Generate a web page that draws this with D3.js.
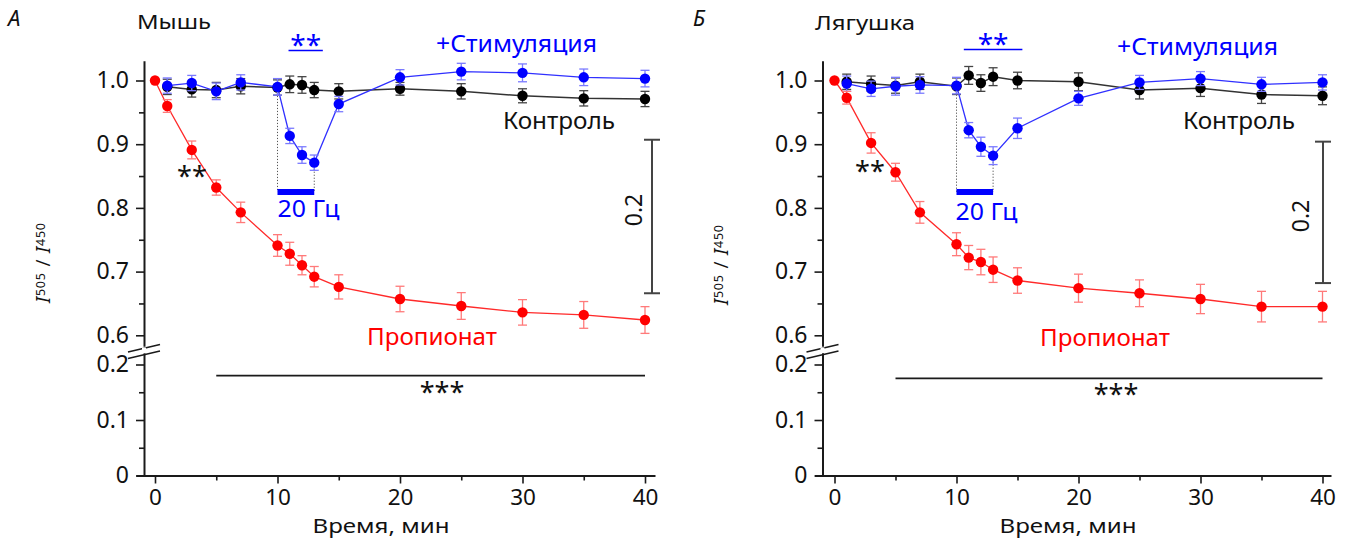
<!DOCTYPE html>
<html><head><meta charset="utf-8">
<script src="https://cdn.jsdelivr.net/npm/d3@7"></script>
<style>
body{margin:0;background:#fff}
svg{display:block}
text{font-family:"Noto Sans",sans-serif}
</style>
</head><body>
<svg id="chart" width="1349" height="539"></svg>
<script>
// ---------------- DATA ----------------
const timeProp = [0,1,3,5,7,10,11,12,13,15,20,25,30,35,40];
const timeCtrl = [1,3,5,7,10,11,12,13,15,20,25,30,35,40];

const mouseProp    = [1.000,0.960,0.891,0.832,0.793,0.741,0.728,0.710,0.692,0.676,0.657,0.646,0.636,0.632,0.624];
const mousePropErr = [0,0.010,0.014,0.012,0.016,0.017,0.018,0.015,0.016,0.019,0.020,0.021,0.020,0.021,0.021];
const mouseCtrl    = [0.990,0.986,0.985,0.991,0.989,0.994,0.993,0.985,0.983,0.987,0.983,0.976,0.972,0.971];
const mouseCtrlErr = [0.012,0.012,0.012,0.012,0.012,0.013,0.013,0.012,0.012,0.010,0.012,0.011,0.012,0.012];
const mouseStim    = [0.992,0.996,0.983,0.997,0.990,0.913,0.883,0.871,0.963,1.005,1.014,1.012,1.005,1.003];
const mouseStimErr = [0.012,0.012,0.013,0.012,0.013,0.012,0.013,0.012,0.012,0.012,0.013,0.014,0.013,0.013];

const frogProp    = [1.000,0.973,0.902,0.856,0.793,0.743,0.722,0.715,0.703,0.686,0.674,0.666,0.657,0.645,0.645];
const frogPropErr = [0,0.010,0.016,0.014,0.017,0.018,0.019,0.020,0.020,0.020,0.022,0.021,0.023,0.024,0.024];
const frogCtrl    = [0.998,0.995,0.992,0.998,0.991,1.008,0.996,1.006,1.000,0.998,0.985,0.988,0.978,0.976];
const frogCtrlErr = [0.012,0.012,0.012,0.012,0.013,0.014,0.013,0.014,0.013,0.014,0.014,0.013,0.014,0.014];
const frogStim    = [0.995,0.987,0.991,0.993,0.992,0.922,0.896,0.882,0.925,0.972,0.997,1.003,0.994,0.997];
const frogStimErr = [0.012,0.012,0.014,0.013,0.013,0.012,0.015,0.014,0.016,0.011,0.011,0.011,0.011,0.012];

const xTicks      = [0,10,20,30,40];
const xMinorTicks = [5,15,25,35];
const yUpperTicks = [0.6,0.7,0.8,0.9,1.0];
const yUpperMinor = [0.65,0.75,0.85,0.95];
const yLowerTicks = [0,0.1,0.2];
const yLowerMinor = [0.05,0.15];

const stimWindow = [10,13];
const stimBarLevel = 0.825;
const mouseStimSig = [10.9,13.7];
const frogStimSig  = [10.6,15.4];
const mouseSigLine = [5,40,0.180];
const frogSigLine  = [5,40,0.175];
const mouseScaleBar = [0.907,0.666];
const frogScaleBar  = [0.904,0.682];

const panelLetters = ["А","Б"];
const speciesNames = ["Мышь","Лягушка"];
const labelStim = "+Стимуляция";
const labelCtrl = "Контроль";
const labelProp = "Пропионат";
const labelFreq = "20 Гц";
const labelX = "Время, мин";
const labelScale = "0.2";

// ---------------- LAYOUT ----------------
const layouts = [
  {yAxisX:144, x0:155, x40:645, xEnd:655, letterX:8, speciesX:137, speciesY:29, speciesW:74,
   stimX:436, stimY:52, ctrlX:503, ctrlY:129, propX:367, propY:345, freqX:277.5, freqY:217,
   scaleX:652, scaleLabX:642, scaleLabY:210, xLabX:381, yLabX:50, yLabY:263,
   blueSigY:50.5, blackSig:[192,171], tripleY:387, tripleX:442},
  {yAxisX:822.5, x0:834.5, x40:1322.5, xEnd:1331, letterX:693, speciesX:815, speciesY:30, speciesW:100,
   stimX:1117, stimY:55, ctrlX:1183, ctrlY:129, propX:1040, propY:346, freqX:955.5, freqY:220,
   scaleX:1323, scaleLabX:1309, scaleLabY:216, xLabX:1068, yLabX:728, yLabY:265,
   blueSigY:49.5, blackSig:[870,166], tripleY:389, tripleX:1116}
];

const panelData = [
  {prop:mouseProp, propErr:mousePropErr, ctrl:mouseCtrl, ctrlErr:mouseCtrlErr, stim:mouseStim, stimErr:mouseStimErr,
   stimSig:mouseStimSig, sigLine:mouseSigLine, scaleBar:mouseScaleBar},
  {prop:frogProp, propErr:frogPropErr, ctrl:frogCtrl, ctrlErr:frogCtrlErr, stim:frogStim, stimErr:frogStimErr,
   stimSig:frogStimSig, sigLine:frogSigLine, scaleBar:frogScaleBar}
];

const RED="#ff0000", RED_L="#ff2a2a", RED_E="#ff7a7a";
const BLUE="#0000ff", BLUE_L="#3030ff", BLUE_E="#7a7aff";
const BLK="#000000", BLK_L="#333333", BLK_E="#444444";
const AX="#1a1a1a";

const svg = d3.select("#chart");

function drawPanel(i){
  const L = layouts[i], D = panelData[i];
  const g = svg.append("g");

  const x = d3.scaleLinear().domain([0,40]).range([L.x0, L.x40]);
  const yU = d3.scaleLinear().domain([0.6,1.0]).range([335.3,80.5]);
  const yL = d3.scaleLinear().domain([0,0.2]).range([475.5,364.5]);

  const xLeft = L.yAxisX - 8;
  const xA = x.copy().domain([x.invert(xLeft), x.invert(L.xEnd)]).range([xLeft, L.xEnd]);
  const yUA = yU.copy().domain([0.583, 1.031]).range([yU(0.583), yU(1.031)]);
  const yLA = yL.copy().domain([0, 0.221]).range([yL(0), yL(0.221)]);

  // X axis
  const xg = g.append("g").attr("transform",`translate(0,${yL(0)})`)
    .call(d3.axisBottom(xA).tickValues(xTicks).tickSize(8).tickPadding(6).tickSizeOuter(0).tickFormat(d3.format("d")));
  g.append("g").attr("transform",`translate(0,${yL(0)})`)
    .call(d3.axisBottom(xA).tickValues(xMinorTicks).tickSize(5).tickSizeOuter(0).tickFormat(""))
    .select(".domain").remove();

  // Y axes
  g.append("g").attr("transform",`translate(${L.yAxisX},0)`)
    .call(d3.axisLeft(yUA).tickValues(yUpperTicks).tickSize(8).tickPadding(7).tickSizeOuter(0).tickFormat(d3.format(".1f")));
  g.append("g").attr("transform",`translate(${L.yAxisX},0)`)
    .call(d3.axisLeft(yUA).tickValues(yUpperMinor).tickSize(5).tickSizeOuter(0).tickFormat(""))
    .select(".domain").remove();
  g.append("g").attr("transform",`translate(${L.yAxisX},0)`)
    .call(d3.axisLeft(yLA).tickValues(yLowerTicks).tickSize(8).tickPadding(7).tickSizeOuter(0)
    .tickFormat(d => d===0 ? "0" : d3.format(".1f")(d)));
  g.append("g").attr("transform",`translate(${L.yAxisX},0)`)
    .call(d3.axisLeft(yLA).tickValues(yLowerMinor).tickSize(5).tickSizeOuter(0).tickFormat(""))
    .select(".domain").remove();

  g.selectAll(".domain").attr("stroke",AX).attr("stroke-width",2);
  g.selectAll(".tick line").attr("stroke",AX).attr("stroke-width",1.6);
  g.selectAll(".tick text").attr("fill","#111").style("font-size","23px").style("font-family","'Noto Sans',sans-serif");
  xg.selectAll(".tick text").style("font-size","22.5px");

  // axis break marks
  const bx = L.yAxisX;
  const bk = g.append("g").attr("stroke",AX).attr("stroke-width",1.5);
  bk.append("line").attr("x1",bx-16).attr("y1",352).attr("x2",bx+16).attr("y2",344.5);
  bk.append("line").attr("x1",bx-16).attr("y1",358.5).attr("x2",bx+16).attr("y2",351);
  g.append("rect").attr("x",bx-2).attr("y",347.5).attr("width",4).attr("height",3.5).attr("fill","#fff");

  const lineGen = (ts) => d3.line().x((d,k)=>x(ts[k])).y(d=>yU(d));

  function series(ts, vals, errs, col, lcol, ecol, lw){
    const sg = g.append("g");
    sg.append("path").datum(vals).attr("d", lineGen(ts)).attr("fill","none").attr("stroke",lcol).attr("stroke-width",lw);
    const eb = sg.append("g").attr("stroke",ecol).attr("stroke-width",1.3);
    vals.forEach((v,k)=>{
      const e = errs[k]; if(!e) return;
      const cx = x(ts[k]);
      eb.append("line").attr("x1",cx).attr("x2",cx).attr("y1",yU(v-e)).attr("y2",yU(v+e));
      eb.append("line").attr("x1",cx-4.5).attr("x2",cx+4.5).attr("y1",yU(v-e)).attr("y2",yU(v-e));
      eb.append("line").attr("x1",cx-4.5).attr("x2",cx+4.5).attr("y1",yU(v+e)).attr("y2",yU(v+e));
    });
    sg.selectAll("circle").data(vals).join("circle")
      .attr("cx",(d,k)=>x(ts[k])).attr("cy",d=>yU(d)).attr("r",5.2).attr("fill",col);
  }

  // stimulation dotted lines and bar
  const k10 = timeCtrl.indexOf(stimWindow[0]), k13 = timeCtrl.indexOf(stimWindow[1]);
  [[stimWindow[0], D.stim[k10]],[stimWindow[1], D.stim[k13]]].forEach(([t,v])=>{
    g.append("line").attr("x1",x(t)).attr("x2",x(t)).attr("y1",yU(v)).attr("y2",yU(stimBarLevel))
      .attr("stroke","#555").attr("stroke-width",1).attr("stroke-dasharray","1.2,1.8");
  });
  g.append("line").attr("x1",x(stimWindow[0])).attr("x2",x(stimWindow[1]))
    .attr("y1",yU(stimBarLevel)).attr("y2",yU(stimBarLevel)).attr("stroke",BLUE).attr("stroke-width",6);

  series(timeCtrl, D.ctrl, D.ctrlErr, BLK, BLK_L, BLK_E, 1.5);
  series(timeCtrl, D.stim, D.stimErr, BLUE, BLUE_L, BLUE_E, 1.3);
  series(timeProp, D.prop, D.propErr, RED, RED_L, RED_E, 1.3);

  // scale bar
  const sb = g.append("g").attr("stroke","#444").attr("stroke-width",2);
  sb.append("line").attr("x1",L.scaleX).attr("x2",L.scaleX).attr("y1",yU(D.scaleBar[0])).attr("y2",yU(D.scaleBar[1]));
  [0,1].forEach(j=>sb.append("line").attr("x1",L.scaleX-8).attr("x2",L.scaleX+8)
     .attr("y1",yU(D.scaleBar[j])).attr("y2",yU(D.scaleBar[j])));
  g.append("text").attr("transform",`translate(${L.scaleLabX},${L.scaleLabY}) rotate(-90)`)
    .attr("text-anchor","middle").style("font-size","23px").attr("fill","#111").text(labelScale);

  // significance line (lower segment)
  g.append("line").attr("x1",x(D.sigLine[0])).attr("x2",x(D.sigLine[1]))
    .attr("y1",yL(D.sigLine[2])).attr("y2",yL(D.sigLine[2])).attr("stroke",AX).attr("stroke-width",1.8);
  g.append("text").attr("x",L.tripleX).attr("y",L.tripleY+15).attr("text-anchor","middle")
    .style("font-size","27px").attr("fill","#111").text("***");

  // blue ** with underline
  g.append("line").attr("x1",x(D.stimSig[0])).attr("x2",x(D.stimSig[1]))
    .attr("y1",L.blueSigY).attr("y2",L.blueSigY).attr("stroke",BLUE).attr("stroke-width",1.6);
  g.append("text").attr("x",(x(D.stimSig[0])+x(D.stimSig[1]))/2).attr("y",L.blueSigY+4).attr("text-anchor","middle")
    .style("font-size","28px").attr("fill",BLUE).text("**");
  // black **
  g.append("text").attr("x",L.blackSig[0]).attr("y",L.blackSig[1]+15).attr("text-anchor","middle")
    .style("font-size","27px").attr("fill","#111").text("**");

  // labels
  g.append("text").attr("x",L.letterX).attr("y",26).style("font-size","22px").style("font-style","italic")
    .attr("fill","#111").text(panelLetters[i]);
  g.append("text").attr("x",L.speciesX).attr("y",L.speciesY).style("font-size","20px").attr("fill","#111")
    .attr("textLength",L.speciesW).attr("lengthAdjust","spacingAndGlyphs").text(speciesNames[i]);
  g.append("text").attr("x",L.stimX).attr("y",L.stimY).style("font-size","23px").attr("fill",BLUE)
    .attr("textLength",161).attr("lengthAdjust","spacingAndGlyphs").text(labelStim);
  g.append("text").attr("x",L.ctrlX).attr("y",L.ctrlY).style("font-size","23px").attr("fill","#111")
    .attr("textLength",112).attr("lengthAdjust","spacingAndGlyphs").text(labelCtrl);
  g.append("text").attr("x",L.propX).attr("y",L.propY).style("font-size","23px").attr("fill",RED)
    .attr("textLength",130).attr("lengthAdjust","spacingAndGlyphs").text(labelProp);
  g.append("text").attr("x",L.freqX).attr("y",L.freqY).style("font-size","23px").attr("fill",BLUE)
    .attr("textLength",62).attr("lengthAdjust","spacingAndGlyphs").text(labelFreq);
  g.append("text").attr("x",L.xLabX).attr("y",533).attr("text-anchor","middle").style("font-size","19.5px").attr("fill","#111")
    .attr("textLength",137).attr("lengthAdjust","spacingAndGlyphs").text(labelX);

  // y label  I505 / I450
  const yl = g.append("text").attr("transform",`translate(${L.yLabX},${L.yLabY}) rotate(-90)`)
    .attr("text-anchor","middle").attr("fill","#111").style("font-size","19px")
    .attr("textLength",80).attr("lengthAdjust","spacing");
  yl.append("tspan").style("font-style","italic").text("I");
  yl.append("tspan").attr("dy",-5).style("font-size","12.5px").text("505");
  yl.append("tspan").attr("dy",5).text(" / ");
  yl.append("tspan").style("font-style","italic").text("I");
  yl.append("tspan").attr("dy",-5).style("font-size","12.5px").text("450");
}

drawPanel(0);
drawPanel(1);
</script>
</body></html>
